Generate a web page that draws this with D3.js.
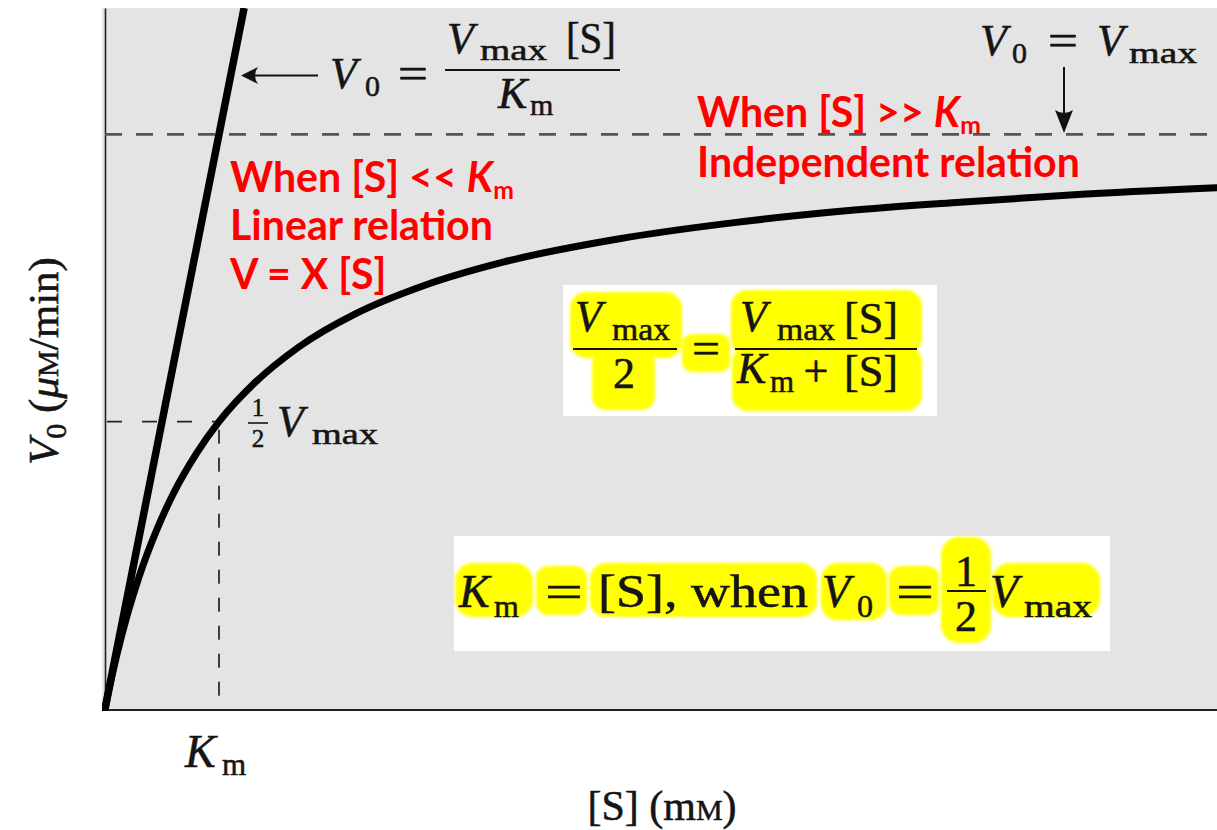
<!DOCTYPE html>
<html><head><meta charset="utf-8">
<script src="https://cdn.jsdelivr.net/npm/d3@7"></script>
<style>html,body{margin:0;padding:0;background:#fff;overflow:hidden}</style>
</head><body>
<svg id="chart" width="1217" height="830"></svg>
<script>
// Substrate concentration, expressed in multiples of Km
const substrate = [0, 0.05, 0.1, 0.2, 0.3, 0.45, 0.6, 0.8, 1, 1.3, 1.7, 2.2, 2.8, 3.5, 4.5, 5.5, 6.5, 7.5, 8.5, 9.75];
// Initial velocity, in percent of Vmax
const velocity = [0, 4.8, 9.1, 16.7, 23.1, 31.0, 37.5, 44.4, 50, 56.5, 63.0, 68.8, 73.7, 77.8, 81.8, 84.6, 86.7, 88.2, 89.5, 90.7];
// Initial-rate line V0 = Vmax[S]/Km
const slopeS = [0, 1.22];
const slopeV = [0, 122];
const Km = 1;
const Vmax = 100;
const redLeft = ["When [S] << ", "Linear relation", "V = X [S]"];
const redRight = ["When [S] >> ", "Independent relation"];

const svg = d3.select("#chart");
const area = {left: 102, top: 8, right: 1217, bottom: 711};

const x = d3.scaleLinear().domain([0, 9.75]).range([105, 1216.5]);
const y = d3.scaleLinear().domain([0, 122]).range([709, 8]);

const defs = svg.append("defs");
defs.append("clipPath").attr("id", "plotClip").append("rect")
  .attr("x", area.left).attr("y", area.top)
  .attr("width", area.right - area.left).attr("height", area.bottom - area.top);
const blur = defs.append("filter").attr("id", "soft").attr("x", "-10%").attr("y", "-10%").attr("width", "120%").attr("height", "120%");
blur.append("feGaussianBlur").attr("stdDeviation", 1.6);

// grey plotting field
svg.append("rect").attr("x", area.left).attr("y", area.top)
  .attr("width", area.right - area.left).attr("height", area.bottom - area.top)
  .attr("fill", "#e4e4e4");

// axes (lines only)
svg.append("g").attr("transform", `translate(0,${y(0) + 0.5})`)
  .call(d3.axisBottom(x).tickValues([]).tickSizeOuter(0))
  .call(g => g.select(".domain").attr("stroke", "#222").attr("stroke-width", 2.2));
svg.append("g").attr("transform", `translate(${x(0)},0)`)
  .call(d3.axisLeft(y).tickValues([]).tickSizeOuter(0))
  .call(g => g.select(".domain").attr("stroke", "#222").attr("stroke-width", 1.6));

const plot = svg.append("g").attr("clip-path", "url(#plotClip)");

// Vmax reference line
plot.append("line")
  .attr("x1", x(0)).attr("x2", area.right)
  .attr("y1", y(Vmax)).attr("y2", y(Vmax))
  .attr("stroke", "#555").attr("stroke-width", 2.6).attr("stroke-dasharray", "17,14");

// half-Vmax guides
plot.append("line")
  .attr("x1", x(0)).attr("x2", x(Km))
  .attr("y1", y(Vmax / 2)).attr("y2", y(Vmax / 2))
  .attr("stroke", "#222").attr("stroke-width", 1.7).attr("stroke-dasharray", "15,20").attr("stroke-dashoffset", -2);
plot.append("line")
  .attr("x1", x(Km)).attr("x2", x(Km))
  .attr("y1", y(Vmax / 2) + 8).attr("y2", y(0))
  .attr("stroke", "#222").attr("stroke-width", 1.7).attr("stroke-dasharray", "14,14");

// hyperbolic saturation curve
const curvePts = substrate.map((s, i) => [s, velocity[i]]);
plot.append("path").datum(curvePts)
  .attr("d", d3.line().x(d => x(d[0])).y(d => y(d[1])).curve(d3.curveMonotoneX))
  .attr("fill", "none").attr("stroke", "#000").attr("stroke-width", 7).attr("stroke-linecap", "round");

// initial-rate line
const slopePts = slopeS.map((s, i) => [s, slopeV[i]]);
plot.append("path").datum(slopePts)
  .attr("d", d3.line().x(d => x(d[0])).y(d => y(d[1])))
  .attr("fill", "none").attr("stroke", "#000").attr("stroke-width", 7.5);

// ---------- text helpers ----------
const MATH = "'Liberation Serif', 'DejaVu Serif', serif";
function txt(g, px, py, str, o = {}) {
  const t = g.append("text").attr("x", px).attr("y", py).text(str)
    .attr("font-family", o.family || MATH)
    .attr("font-size", o.size || 42)
    .attr("font-style", o.italic ? "italic" : "normal")
    .attr("font-weight", o.weight || "normal")
    .attr("fill", o.fill || "#151515")
    .attr("text-anchor", o.anchor || "start");
  if (!o.family) t.attr("stroke", "#151515").attr("stroke-width", 0.55);
  return t;
}
function bar(g, x1, x2, yy, w = 2.2) {
  g.append("line").attr("x1", x1).attr("x2", x2).attr("y1", yy).attr("y2", yy)
    .attr("stroke", "#151515").attr("stroke-width", w);
}

const ann = svg.append("g");

// arrow pointing at the initial-rate line
ann.append("line").attr("x1", 252).attr("x2", 318).attr("y1", 75.5).attr("y2", 75.5)
  .attr("stroke", "#111").attr("stroke-width", 2);
ann.append("path").attr("d", "M241,75.5 L258,67 Q252,75.5 258,84 Z").attr("fill", "#111");

// V0 = Vmax[S]/Km
txt(ann, 330, 88, "V", {italic: true, size: 44});
txt(ann, 365, 96, "0", {size: 30});
txt(ann, 398, 88, "=", {size: 44}).attr("textLength", 30).attr("lengthAdjust", "spacingAndGlyphs");
txt(ann, 447, 53, "V", {italic: true, size: 44});
txt(ann, 480, 60, "max", {size: 30}).attr("textLength", 67).attr("lengthAdjust", "spacingAndGlyphs");
txt(ann, 566, 53, "[S]", {size: 44}).attr("textLength", 50).attr("lengthAdjust", "spacingAndGlyphs");
bar(ann, 445, 620, 70);
txt(ann, 498, 108, "K", {italic: true, size: 44});
txt(ann, 530, 115, "m", {size: 30});

// V0 = Vmax with down arrow
txt(ann, 980, 55, "V", {italic: true, size: 44});
txt(ann, 1012, 63, "0", {size: 30});
txt(ann, 1048, 55, "=", {size: 44}).attr("textLength", 30).attr("lengthAdjust", "spacingAndGlyphs");
txt(ann, 1097, 55, "V", {italic: true, size: 44});
txt(ann, 1129, 63, "max", {size: 30}).attr("textLength", 68).attr("lengthAdjust", "spacingAndGlyphs");
ann.append("line").attr("x1", 1064).attr("x2", 1064).attr("y1", 67).attr("y2", 118)
  .attr("stroke", "#111").attr("stroke-width", 2);
ann.append("path").attr("d", "M1064,133 L1055,110 Q1064,116 1073,110 Z").attr("fill", "#111");

// 1/2 Vmax label
txt(ann, 258, 416, "1", {size: 25, anchor: "middle"});
bar(ann, 248, 268, 423, 1.6);
txt(ann, 258, 447, "2", {size: 25, anchor: "middle"});
txt(ann, 277, 436, "V", {italic: true, size: 44});
txt(ann, 312, 444, "max", {size: 30}).attr("textLength", 66).attr("lengthAdjust", "spacingAndGlyphs");

// Km under the axis
txt(ann, x(Km) - 34, 767, "K", {italic: true, size: 46});
txt(ann, x(Km) + 3, 775, "m", {size: 31});

// x-axis title
const xt = txt(ann, 662, 820, "[S] (m", {size: 42, anchor: "middle"});
xt.append("tspan").attr("font-size", 30).text("M");
xt.append("tspan").text(")");

// y-axis title
const yt = ann.append("text")
  .attr("transform", "translate(58,361) rotate(-90)")
  .attr("text-anchor", "middle")
  .attr("font-family", MATH).attr("font-size", 43).attr("fill", "#151515")
  .attr("stroke", "#151515").attr("stroke-width", 0.55);
yt.append("tspan").attr("font-style", "italic").text("V");
yt.append("tspan").attr("font-size", 30).attr("dy", 8).text("0");
yt.append("tspan").attr("dy", -8).text(" (");
yt.append("tspan").attr("font-style", "italic").text("μ");
yt.append("tspan").attr("font-size", 30).text("M");
yt.append("tspan").text("/min)");

// ---------- red remarks ----------
const RED = "#ff0000";
const SANS = "Lato, 'Open Sans', sans-serif";
const probe = txt(svg, 0, -100, redLeft[1], {family: SANS, size: 40, weight: "bold"});
const redSize = 40 * 263 / probe.node().getComputedTextLength();
probe.remove();

function redLine(px, py, str, km) {
  const t = txt(ann, px, py, str, {family: SANS, size: redSize, weight: "bold", fill: RED});
  if (km) {
    t.append("tspan").attr("font-style", "italic").text("K");
    t.append("tspan").attr("font-size", redSize * 0.6).attr("dy", redSize * 0.16).text("m");
  }
  return t;
}
redLine(230, 192, redLeft[0], true);
redLine(230, 240, redLeft[1]);
redLine(230, 289, redLeft[2]);
redLine(697, 127, redRight[0], true);
redLine(697, 177, redRight[1]);

// ---------- highlighted formula boxes ----------
const HL = "#ffff00";
function blob(g, x1, y1, x2, y2, r = 14) {
  g.append("rect").attr("x", x1).attr("y", y1).attr("width", x2 - x1).attr("height", y2 - y1)
    .attr("rx", r).attr("ry", r).attr("fill", HL).attr("filter", "url(#soft)");
}

// Vmax/2 = Vmax[S]/(Km + [S])
const b1 = svg.append("g");
b1.append("rect").attr("x", 563).attr("y", 285).attr("width", 374).attr("height", 131).attr("fill", "#fff");
blob(b1, 570, 292, 682, 358, 16);
blob(b1, 592, 350, 655, 410, 14);
blob(b1, 682, 334, 730, 372, 10);
blob(b1, 731, 290, 922, 354, 16);
blob(b1, 732, 346, 922, 411, 16);
txt(b1, 575, 331, "V", {italic: true, size: 44});
txt(b1, 612, 340, "max", {size: 31}).attr("textLength", 58).attr("lengthAdjust", "spacingAndGlyphs");
bar(b1, 573, 677, 349);
txt(b1, 624, 388, "2", {size: 44, anchor: "middle"});
txt(b1, 692, 363, "=", {size: 44}).attr("textLength", 28).attr("lengthAdjust", "spacingAndGlyphs");
txt(b1, 740, 331, "V", {italic: true, size: 44});
txt(b1, 777, 340, "max", {size: 31}).attr("textLength", 58).attr("lengthAdjust", "spacingAndGlyphs");
txt(b1, 844, 333, "[S]", {size: 44}).attr("textLength", 54).attr("lengthAdjust", "spacingAndGlyphs");
bar(b1, 735, 917, 349);
txt(b1, 737, 383, "K", {italic: true, size: 44});
txt(b1, 770, 392, "m", {size: 31});
txt(b1, 816, 386, "+", {size: 44, anchor: "middle"});
txt(b1, 844, 386, "[S]", {size: 44}).attr("textLength", 54).attr("lengthAdjust", "spacingAndGlyphs");

// Km = [S], when V0 = 1/2 Vmax
const b2 = svg.append("g");
b2.append("rect").attr("x", 454).attr("y", 536).attr("width", 656).attr("height", 115).attr("fill", "#fff");
blob(b2, 455, 563, 533, 617, 18);
blob(b2, 536, 566, 587, 615, 12);
blob(b2, 590, 563, 817, 617, 16);
blob(b2, 821, 563, 887, 620, 16);
blob(b2, 889, 566, 939, 615, 12);
blob(b2, 941, 537, 991, 643, 18);
blob(b2, 992, 563, 1100, 617, 18);
txt(b2, 459, 607, "K", {italic: true, size: 46});
txt(b2, 494, 617, "m", {size: 32});
txt(b2, 545, 607, "=", {size: 46}).attr("textLength", 38).attr("lengthAdjust", "spacingAndGlyphs");
txt(b2, 598, 607, "[S], when", {size: 46}).attr("textLength", 210).attr("lengthAdjust", "spacingAndGlyphs");
txt(b2, 822, 607, "V", {italic: true, size: 46});
txt(b2, 857, 617, "0", {size: 32});
txt(b2, 896, 607, "=", {size: 46}).attr("textLength", 38).attr("lengthAdjust", "spacingAndGlyphs");
txt(b2, 966, 586, "1", {size: 44, anchor: "middle"});
bar(b2, 947, 986, 591);
txt(b2, 966, 631, "2", {size: 44, anchor: "middle"});
txt(b2, 990, 607, "V", {italic: true, size: 46});
txt(b2, 1024, 617, "max", {size: 32}).attr("textLength", 68).attr("lengthAdjust", "spacingAndGlyphs");
</script>
</body></html>
